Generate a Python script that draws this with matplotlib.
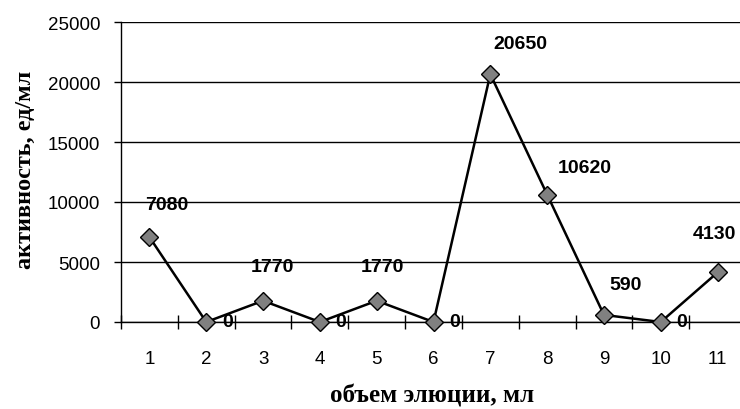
import matplotlib.pyplot as plt
from matplotlib.ticker import MultipleLocator, FixedLocator

volume = [1, 2, 3, 4, 5, 6, 7, 8, 9, 10, 11]
activity = [7080, 0, 1770, 0, 1770, 0, 20650, 10620, 590, 0, 4130]

# label offsets in pixels (dx, dy), Excel put them a bit unevenly
label_dx = [17, 21, 9, 21, 6, 21, 30, 38, 22, 21, -3]
label_dy = [33, 0, 34, 0, 34, 0, 31, 27, 30, 0, 39]

fig = plt.figure(figsize=(7.4, 4.1), dpi=100)
ax = fig.add_axes([121/740, 87/410, 625/740, 300/410])

ax.plot(volume, activity, color='black', lw=1.8, marker='D', ms=9,
        mfc='#808080', mec='black', mew=1, zorder=3, clip_on=False)

for x, y, dx, dy in zip(volume, activity, label_dx, label_dy):
    ax.annotate(str(y), (x, y), xytext=(dx * 0.72, dy * 0.72), textcoords='offset points',
                ha='center', va='center', fontsize=14, fontweight='bold',
                family='Liberation Sans', zorder=4)

ax.set_xlim(0.5, 11.5)
ax.set_ylim(0, 25000)
ax.yaxis.set_major_locator(MultipleLocator(5000))
ax.xaxis.set_major_locator(FixedLocator(volume))
ax.xaxis.set_minor_locator(FixedLocator([v - 0.5 for v in volume]))

ax.grid(axis='y', color='black', lw=1)
ax.yaxis.get_gridlines()[-1].set_color('#808080')
ax.yaxis.get_gridlines()[-1].set_linewidth(1.5)
ax.set_axisbelow(True)

for s in ['top', 'right']:
    ax.spines[s].set_visible(False)
ax.spines['left'].set_linewidth(1)
ax.spines['bottom'].set_linewidth(1)

ax.tick_params(axis='x', which='major', length=0, pad=20)
ax.tick_params(axis='x', which='minor', direction='inout', length=10, width=1)
ax.tick_params(axis='y', direction='out', length=5, width=1, pad=10)
for lab in ax.get_xticklabels() + ax.get_yticklabels():
    lab.set_family('Liberation Sans')
    lab.set_fontsize(13.5)

ax.set_xlabel('объем элюции, мл', family='Liberation Serif', fontweight='bold',
              fontsize=18)
ax.xaxis.set_label_coords((432 - 121) / 625, -(396 - 323) / 300)
ax.xaxis.label.set_va('center')
ax.set_ylabel('активность, ед/мл', family='Liberation Serif', fontweight='bold',
              fontsize=17.5)
ax.yaxis.set_label_coords(-(121 - 25) / 625, (323 - 170) / 300)
ax.yaxis.label.set_va('center')

fig.savefig('out.png', dpi=100)
